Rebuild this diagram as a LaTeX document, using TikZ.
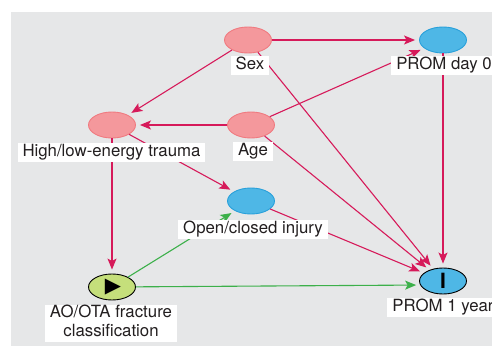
\documentclass[tikz,border=0pt]{standalone}
\usepackage{fontspec}
\setmainfont{TeX Gyre Heros}
\newfontfamily\symfont{DejaVu Sans}
\usetikzlibrary{arrows.meta,shapes.geometric}
\definecolor{bggray}{RGB}{230,231,232}
\definecolor{pinkfill}{RGB}{244,152,156}
\definecolor{pinkline}{RGB}{240,122,128}
\definecolor{bluefill}{RGB}{78,183,230}
\definecolor{blueline}{RGB}{40,160,218}
\definecolor{greenfill}{RGB}{197,223,123}
\definecolor{arrred}{RGB}{214,26,90}
\definecolor{arrgreen}{RGB}{60,176,74}
\definecolor{txtgray}{RGB}{35,31,32}
\tikzset{
  var/.style={ellipse, minimum width=47pt, minimum height=26pt, inner sep=0pt, line width=0.9pt},
  confnode/.style={var, fill=pinkfill, draw=pinkline},
  prognode/.style={var, fill=bluefill, draw=blueline},
  expnode/.style={var, fill=greenfill, draw=black},
  outnode/.style={var, fill=bluefill, draw=black},
  lbl/.style={fill=white, text=txtgray, inner xsep=5pt, inner ysep=0pt, align=center,
    font=\fontsize{16.8}{19}\selectfont, execute at begin node=\strut, execute at end node=\strut},
  redarr/.style={draw=arrred, line width=1.1pt, shorten >=4pt,
    -{Stealth[length=11pt,width=9pt,inset=2.5pt]}},
  greenarr/.style={redarr, draw=arrgreen},
}
\begin{document}
\begin{tikzpicture}[x=1pt,y=1pt,yscale=-1,xscale=1]
\useasboundingbox (0,0) rectangle (492,347);

%Shape: Rectangle (background)
\fill[bggray] (11,12) rectangle (496,346);

%Shape: Ellipse
\node[confnode] (sex) at (248,40) {};
\node[prognode] (day0) at (443,40) {};
\node[confnode] (age) at (251,125) {};
\node[confnode] (trauma) at (112,125) {};
\node[prognode] (injury) at (251,201) {};
\node[expnode] (aoota) at (112,287) {\symfont\fontsize{21}{21}\selectfont\hspace{2pt}▶};
\node[outnode] (year1) at (443,281) {\fontsize{21}{21}\selectfont\bfseries I};

%Straight Lines
\draw[redarr] (sex) -- (day0);
\draw[redarr] (sex) -- (trauma);
\draw[redarr] (sex) -- (year1);
\draw[redarr] (age) -- (day0);
\draw[redarr] (age) -- (trauma);
\draw[redarr] (age) -- (year1);
\draw[redarr] (trauma) -- (injury);
\draw[redarr] (trauma) -- (aoota);
\draw[redarr] (injury) -- (year1);
\draw[redarr] (day0) -- (year1);
\draw[greenarr] (aoota) -- (injury);
\draw[greenarr] (aoota) -- (year1.190);

% Text Node
\node[lbl, anchor=north] (sexlbl) at (250,56) {Sex};
% Text Node
\node[lbl, anchor=north] (day0lbl) at (444,56) {PROM day 0};
% Text Node
\node[lbl, anchor=north] (agelbl) at (253,142) {Age};
% Text Node
\node[lbl, anchor=north] (traumalbl) at (111.5,143) {High/low-energy trauma};
% Text Node
\node[lbl, anchor=north] (injurylbl) at (253,220) {Open/closed injury};
% Text Node
\node[lbl, anchor=north] (aootalbl) at (111,305) {AO/OTA fracture\\classification};
% Text Node
\node[lbl, anchor=north] (year1lbl) at (443,298) {PROM 1 year};

\end{tikzpicture}
\end{document}
